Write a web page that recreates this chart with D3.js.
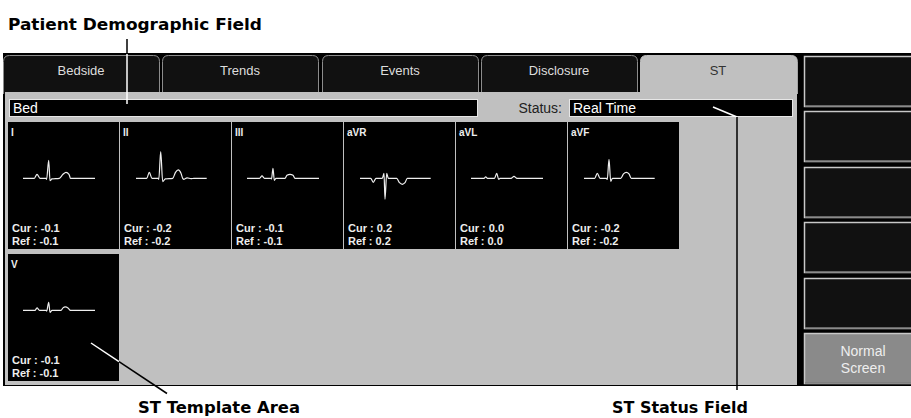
<!DOCTYPE html>
<html>
<head>
<meta charset="utf-8">
<script src="https://cdn.jsdelivr.net/npm/d3@7"></script>
<style>
  body { margin: 0; background: #fff; }
  svg { display: block; }
  .ui { font-family: "Liberation Sans", Arial, Helvetica, sans-serif; }
  .callout { font-family: Futura, "DejaVu Sans", sans-serif; font-weight: bold; fill: #000; }
</style>
</head>
<body>
<svg id="svg" width="911" height="418"></svg>
<script>
// Tabs, leads and ST values
const tabNames = ["Bedside", "Trends", "Events", "Disclosure", "ST"];
const activeTab = "ST";
const leadNames = ["I", "II", "III", "aVR", "aVL", "aVF", "V"];
const curST = [-0.1, -0.2, -0.1, 0.2, 0.0, -0.2, -0.1];
const refST = [-0.1, -0.2, -0.1, 0.2, 0.0, -0.2, -0.1];
const bedText = "Bed";
const statusText = "Real Time";
const sideButtons = ["", "", "", "", "", "Normal|Screen"];

// Template beats per lead: [time ms, amplitude mV]
const waveI   = [[0,0],[113,0],[140,0.2],[170,0],[230,0],[236,-0.05],[257,0.9],[270,-0.12],[290,-0.03],[363,0],[400,0.2],[430,0.3],[460,0.2],[475,0],[720,0]];
const waveII  = [[10,0],[117,0],[143,0.3],[170,0],[233,0],[238,-0.05],[257,1.33],[277,-0.17],[303,-0.03],[377,0],[405,0.3],[433,0.42],[460,0.25],[477,0],[490,-0.05],[520,0.02],[560,-0.02],[590,0],[717,0]];
const waveIII = [[0,0],[125,0],[150,0.12],[175,0],[240,0],[245,-0.03],[260,0.5],[273,-0.1],[290,0],[380,0],[400,0.15],[430,0.2],[460,0.15],[480,0],[720,0]];
const waveAVR = [[10,0],[117,0],[143,-0.2],[170,0],[233,0],[250,0.25],[260,-1.05],[277,0.25],[293,0],[377,0],[405,-0.22],[433,-0.3],[460,-0.22],[483,0],[717,0]];
const waveAVL = [[0,0],[130,0],[147,0.07],[165,0],[235,0],[257,0.25],[277,-0.05],[290,0],[400,0],[430,0.1],[460,0],[720,0]];
const waveAVF = [[10,0],[117,0],[143,0.25],[170,0],[235,0],[243,-0.06],[260,0.95],[277,-0.15],[295,0],[377,0],[405,0.22],[433,0.3],[460,0.22],[483,0],[717,0]];
const waveV   = [[0,0],[120,0],[140,0.12],[165,0],[230,0],[237,-0.04],[257,0.4],[270,-0.1],[290,0],[380,0],[400,0.12],[423,0.17],[450,0.12],[475,0],[720,0]];
const templates = [waveI, waveII, waveIII, waveAVR, waveAVL, waveAVF, waveV];

const attr = {
  screen: { x: 3, y: 53, w: 908, h: 333 },
  panel: { x: 5, y: 92, w: 792, h: 293 },
  tab: { x: 3, y: 55, w: 156, pitch: 159.3, r: 6 },
  tile: { x: 8, w: 111, h: 127, pitch: 112, perRow: 6, rows: [122, 254] },
  button: { x: 804, y: 56, w: 112, h: 50, pitch: 55.4 }
};

const svg = d3.select("svg#svg");

var translate = function(a, b) {
  return "translate(" + a + ", " + b + ")";
}

// monitor background
svg.append("rect")
  .attr("x", attr.screen.x).attr("y", attr.screen.y)
  .attr("width", attr.screen.w).attr("height", attr.screen.h)
  .attr("fill", "#000");

// tabs
var tabPath = function(x0, y0, w, y1, r) {
  let x1 = x0 + w;
  return "M" + x0 + "," + y1 + "V" + (y0 + r) + "Q" + x0 + "," + y0 + " " + (x0 + r) + "," + y0 +
    "H" + (x1 - r) + "Q" + x1 + "," + y0 + " " + x1 + "," + (y0 + r) + "V" + y1;
}

let tabs = svg.append("g").attr("class", "ui")
  .selectAll("g.tab")
  .data(tabNames)
  .enter()
  .append("g")
  .attr("class", "tab");

tabs.append("path")
  .attr("d", (d, i) => {
    let w = d === activeTab ? attr.panel.x + attr.panel.w - (attr.tab.x + i * attr.tab.pitch) : attr.tab.w;
    return tabPath(Math.round(attr.tab.x + i * attr.tab.pitch) + 0.5, attr.tab.y + 0.5, w, attr.panel.y + 2, attr.tab.r);
  })
  .attr("fill", d => d === activeTab ? "#c0c0c0" : "#111")
  .attr("stroke", d => d === activeTab ? "#c0c0c0" : "#8c8c8c")
  .attr("stroke-width", 1);

tabs.append("text")
  .attr("x", (d, i) => Math.round(attr.tab.x + i * attr.tab.pitch) + attr.tab.w / 2)
  .attr("y", 75)
  .attr("text-anchor", "middle")
  .attr("font-size", 13)
  .attr("fill", d => d === activeTab ? "#333" : "#ddd")
  .text(d => d);

// gray content panel
svg.append("rect")
  .attr("x", attr.panel.x).attr("y", attr.panel.y)
  .attr("width", attr.panel.w).attr("height", attr.panel.h)
  .attr("fill", "#c0c0c0");

// demographic + status fields
let fields = svg.append("g").attr("class", "ui");
fields.append("rect")
  .attr("x", 9.5).attr("y", 99.5).attr("width", 468).attr("height", 17)
  .attr("fill", "#000").attr("stroke", "#e6e6e6");
fields.append("text")
  .attr("x", 13).attr("y", 113).attr("font-size", 14).attr("fill", "#fff")
  .text(bedText);
fields.append("text")
  .attr("x", 562).attr("y", 113).attr("font-size", 14).attr("fill", "#222")
  .attr("text-anchor", "end")
  .text("Status:");
fields.append("rect")
  .attr("x", 569.5).attr("y", 99.5).attr("width", 223).attr("height", 17)
  .attr("fill", "#000").attr("stroke", "#e6e6e6");
fields.append("text")
  .attr("x", 573).attr("y", 113).attr("font-size", 14).attr("fill", "#fff")
  .text(statusText);

// ST template tiles
const xWave = d3.scaleLinear().domain([0, 720]).range([15, 87]);
const yWave = d3.scaleLinear().domain([-1.5, 1.5]).range([56.3 + 30, 56.3 - 30]);
const line = d3.line()
  .x(d => xWave(d[0]))
  .y(d => yWave(d[1]))
  .curve(d3.curveMonotoneX);
const fmt = v => v.toFixed(1);

let tiles = svg.append("g").attr("class", "ui")
  .selectAll("g.tile")
  .data(leadNames)
  .enter()
  .append("g")
  .attr("class", "tile")
  .attr("transform", (d, i) => translate(attr.tile.x + (i % attr.tile.perRow) * attr.tile.pitch,
    attr.tile.rows[Math.floor(i / attr.tile.perRow)]));

tiles.append("rect")
  .attr("width", attr.tile.w).attr("height", attr.tile.h)
  .attr("fill", "#000");

tiles.append("text")
  .attr("x", 3).attr("y", 14)
  .attr("font-size", 10).attr("font-weight", "bold").attr("fill", "#eee")
  .text(d => d);

tiles.append("path")
  .attr("d", (d, i) => line(templates[i]))
  .attr("fill", "none")
  .attr("stroke", "#eee")
  .attr("stroke-width", 1.2);

tiles.append("text")
  .attr("x", 4).attr("y", 110)
  .attr("font-size", 11).attr("font-weight", "bold").attr("fill", "#eee")
  .text((d, i) => "Cur : " + fmt(curST[i]));

tiles.append("text")
  .attr("x", 4).attr("y", 123)
  .attr("font-size", 11).attr("font-weight", "bold").attr("fill", "#eee")
  .text((d, i) => "Ref : " + fmt(refST[i]));

// side buttons
let buttons = svg.append("g").attr("class", "ui")
  .selectAll("g.button")
  .data(sideButtons)
  .enter()
  .append("g")
  .attr("class", "button")
  .attr("transform", (d, i) => translate(attr.button.x, Math.round(attr.button.y + i * attr.button.pitch)));

buttons.append("rect")
  .attr("x", 0.5).attr("y", 0.5)
  .attr("width", attr.button.w).attr("height", attr.button.h)
  .attr("fill", d => d ? "#8a8a8a" : "#111")
  .attr("stroke", "#c8c8c8")
  .attr("stroke-width", 1.5);

buttons.append("line")
  .attr("x1", 1).attr("x2", attr.button.w)
  .attr("y1", attr.button.h).attr("y2", attr.button.h)
  .attr("stroke", "#777").attr("stroke-width", 1.5);

buttons.filter(d => d).selectAll("text")
  .data(d => d.split("|"))
  .enter()
  .append("text")
  .attr("x", 59).attr("y", (d, i) => 23 + i * 17)
  .attr("text-anchor", "middle")
  .attr("font-size", 14).attr("fill", "#eee")
  .text(d => d);

// callouts
let callouts = svg.append("g");

callouts.append("text").attr("class", "callout")
  .attr("x", 8).attr("y", 30).attr("font-size", 15.5)
  .attr("textLength", 254).attr("lengthAdjust", "spacingAndGlyphs")
  .text("Patient Demographic Field");
callouts.append("text").attr("class", "callout")
  .attr("x", 138).attr("y", 413).attr("font-size", 15.5)
  .attr("textLength", 162).attr("lengthAdjust", "spacingAndGlyphs")
  .text("ST Template Area");
callouts.append("text").attr("class", "callout")
  .attr("x", 612).attr("y", 413).attr("font-size", 15.5)
  .attr("textLength", 136).attr("lengthAdjust", "spacingAndGlyphs")
  .text("ST Status Field");

const leaders = [
  { x1: 127, y1: 39, x2: 127, y2: 54, c: "#000" },
  { x1: 127, y1: 54, x2: 127, y2: 104, c: "#fff" },
  { x1: 91, y1: 343, x2: 119, y2: 361.7, c: "#fff" },
  { x1: 119, y1: 361.7, x2: 167, y2: 393.5, c: "#000" },
  { x1: 713, y1: 107, x2: 737, y2: 117, c: "#fff" },
  { x1: 737, y1: 117, x2: 737, y2: 390, c: "#000" }
];

callouts.selectAll("line")
  .data(leaders)
  .enter()
  .append("line")
  .attr("x1", d => d.x1).attr("y1", d => d.y1)
  .attr("x2", d => d.x2).attr("y2", d => d.y2)
  .attr("stroke", d => d.c)
  .attr("stroke-width", 1.5);
</script>
</body>
</html>
